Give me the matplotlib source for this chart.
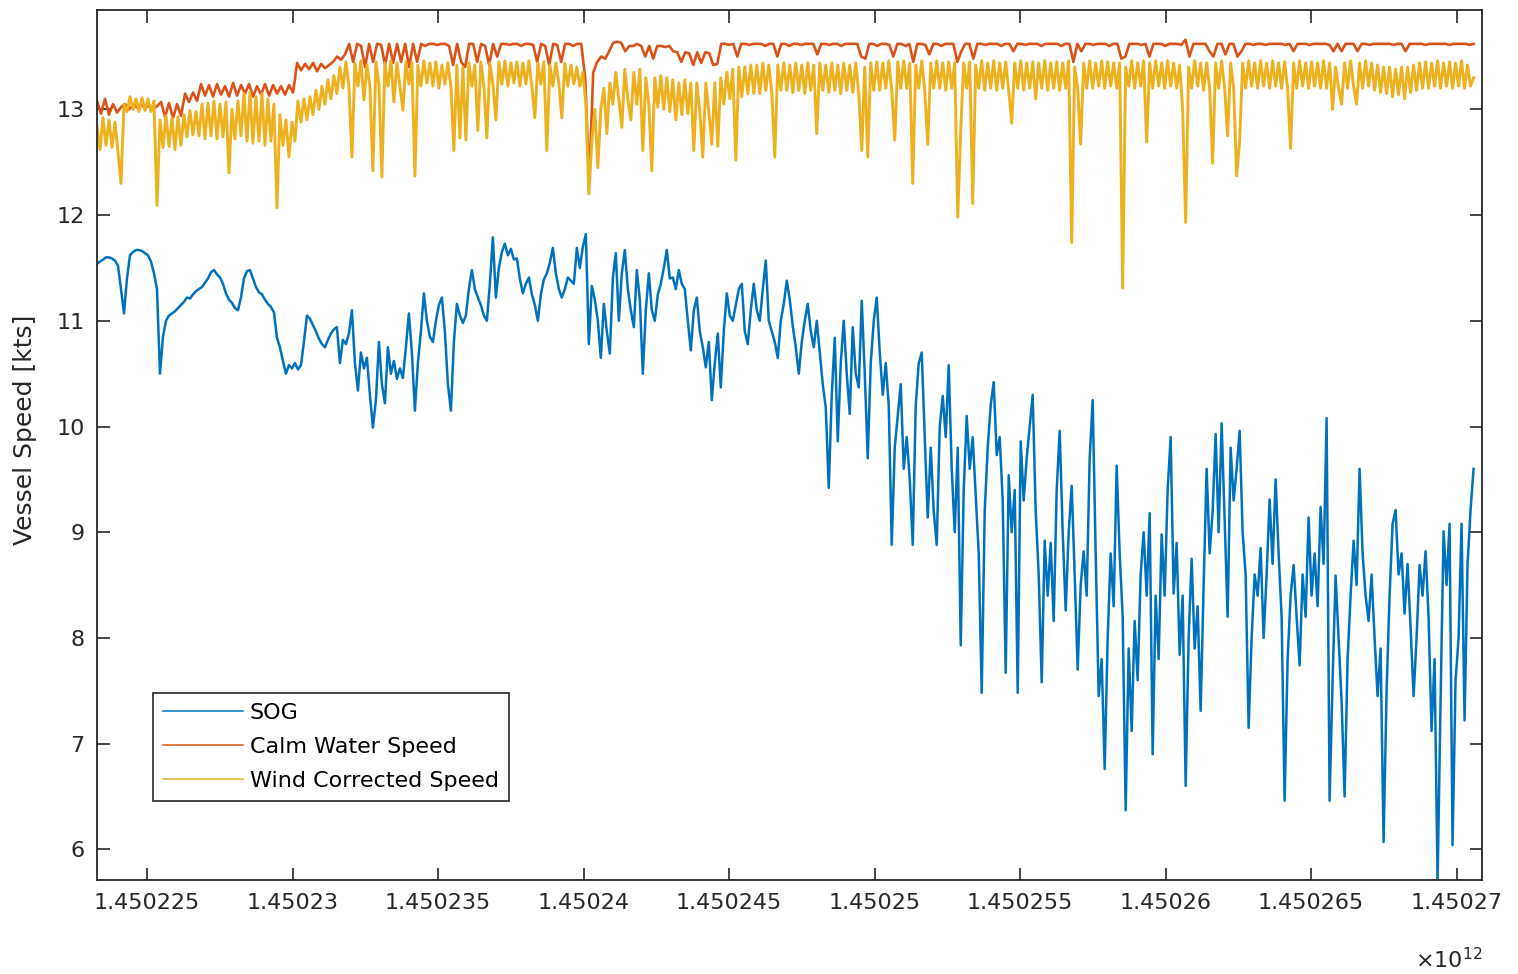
import numpy as np
import matplotlib
matplotlib.use('Agg')
import matplotlib.pyplot as plt

# Log timestamps (unix epoch, ms); samples are evenly spaced over the passage
T_START = 1450223281800
T_END = 1450270585000

# Speed over ground [kts]
sog = [
    11.54, 11.56, 11.58, 11.60, 11.60, 11.59, 11.57, 11.52, 11.30, 11.07,
    11.40, 11.62, 11.65, 11.67, 11.67, 11.66, 11.64, 11.62, 11.56, 11.45,
    11.30, 10.50, 10.85, 11.00, 11.05, 11.07, 11.09, 11.12, 11.15, 11.18,
    11.22, 11.21, 11.25, 11.28, 11.30, 11.32, 11.36, 11.40, 11.46, 11.48,
    11.44, 11.41, 11.35, 11.26, 11.20, 11.17, 11.12, 11.10, 11.22, 11.40,
    11.47, 11.48, 11.40, 11.32, 11.27, 11.25, 11.20, 11.16, 11.13, 11.08,
    10.84, 10.75, 10.62, 10.50, 10.58, 10.55, 10.60, 10.54, 10.58, 10.80,
    11.05, 11.02, 10.96, 10.90, 10.83, 10.78, 10.75, 10.82, 10.88, 10.92,
    10.94, 10.60, 10.82, 10.78, 10.88, 11.10, 10.60, 10.34, 10.70, 10.55,
    10.65, 10.30, 9.99, 10.25, 10.80, 10.40, 10.22, 10.75, 10.50, 10.62,
    10.45, 10.55, 10.46, 10.75, 11.07, 10.70, 10.15, 10.60, 10.90, 11.26,
    11.00, 10.85, 10.80, 11.00, 11.15, 11.22, 10.90, 10.40, 10.15, 10.80,
    11.16, 11.05, 10.98, 11.05, 11.30, 11.48, 11.30, 11.22, 11.15, 11.05,
    11.00, 11.35, 11.79, 11.22, 11.50, 11.65, 11.73, 11.62, 11.68, 11.58,
    11.59, 11.40, 11.26, 11.35, 11.41, 11.25, 11.15, 11.00, 11.25, 11.39,
    11.45, 11.55, 11.69, 11.45, 11.30, 11.22, 11.30, 11.41, 11.38, 11.35,
    11.69, 11.50, 11.70, 11.82, 10.78, 11.33, 11.20, 11.00, 10.65, 11.16,
    10.90, 10.69, 11.40, 11.64, 11.00, 11.45, 11.67, 11.30, 11.10, 10.94,
    11.48, 11.20, 10.50, 11.10, 11.45, 11.10, 11.00, 11.25, 11.35, 11.50,
    11.67, 11.40, 11.41, 11.30, 11.48, 11.35, 11.30, 11.00, 10.72, 11.10,
    11.22, 10.90, 10.75, 10.56, 10.80, 10.25, 10.60, 10.88, 10.37, 10.90,
    11.26, 11.05, 11.00, 11.15, 11.30, 11.35, 10.90, 10.78, 11.10, 11.35,
    11.10, 11.00, 11.30, 11.57, 11.00, 10.90, 10.80, 10.65, 11.00, 11.16,
    11.38, 11.20, 10.95, 10.75, 10.50, 10.80, 11.00, 11.16, 10.90, 10.75,
    11.00, 10.70, 10.40, 10.18, 9.42, 10.30, 10.84, 9.86, 10.60, 11.00,
    10.50, 10.12, 10.94, 10.50, 10.37, 11.19, 10.50, 9.70, 10.60, 11.00,
    11.22, 10.70, 10.30, 10.60, 10.20, 8.88, 9.80, 10.10, 10.40, 9.60,
    9.90, 9.50, 8.88, 10.20, 10.60, 10.70, 9.90, 9.14, 9.80, 9.20,
    8.88, 10.00, 10.29, 9.90, 10.58, 9.60, 9.00, 9.80, 7.93, 9.40,
    10.10, 9.60, 9.90, 9.34, 8.80, 7.48, 9.20, 9.80, 10.20, 10.42,
    9.73, 9.90, 9.30, 7.67, 9.54, 9.00, 9.40, 7.48, 9.86, 9.30,
    9.70, 10.00, 10.30, 9.20, 8.60, 7.58, 8.92, 8.40, 8.90, 8.16,
    9.40, 9.96, 9.00, 8.26, 9.00, 9.44, 8.60, 7.70, 8.50, 8.82,
    8.40, 9.70, 10.25, 8.80, 7.45, 7.80, 6.76, 8.00, 8.80, 8.30,
    9.63, 8.80, 8.20, 6.37, 7.90, 7.12, 8.16, 7.60, 8.60, 9.00,
    8.40, 9.18, 6.90, 8.40, 7.80, 8.98, 8.40, 9.40, 9.90, 8.42,
    8.90, 7.84, 8.40, 6.60, 8.00, 8.75, 7.90, 8.30, 7.31, 8.50,
    9.60, 8.80, 9.20, 9.93, 9.00, 10.03, 9.10, 8.20, 9.80, 9.30,
    9.60, 9.96, 9.00, 8.60, 7.15, 8.00, 8.60, 8.40, 8.85, 8.00,
    8.60, 9.31, 8.70, 9.50, 8.80, 8.20, 6.46, 7.80, 8.40, 8.69,
    8.20, 7.74, 8.60, 8.20, 9.14, 8.40, 8.80, 8.30, 9.24, 8.70,
    10.08, 6.46, 7.60, 8.59, 8.00, 7.40, 6.50, 7.80, 8.40, 8.92,
    8.50, 9.60, 8.80, 8.40, 8.16, 8.60, 8.00, 7.45, 7.90, 6.07,
    7.50, 8.40, 9.08, 9.21, 8.60, 8.80, 8.23, 8.70, 8.10, 7.45,
    8.00, 8.69, 8.40, 8.82, 8.20, 7.12, 7.80, 5.68, 7.40, 9.01,
    8.50, 9.08, 6.04, 7.60, 8.00, 9.08, 7.22, 8.70, 9.21, 9.60,
]

# Calm water speed from the power curve [kts]
calm_water = [
    13.08, 12.96, 13.10, 12.95, 13.05, 12.97, 13.02, 13.05, 13.00, 13.04,
    13.02, 13.05, 13.01, 13.04, 13.00, 13.03, 13.07, 12.93, 13.06, 12.92,
    13.05, 12.94, 13.15, 13.07, 13.16, 13.08, 13.24, 13.13, 13.23, 13.12,
    13.24, 13.14, 13.22, 13.12, 13.25, 13.13, 13.23, 13.15, 13.24, 13.12,
    13.22, 13.14, 13.24, 13.13, 13.23, 13.15, 13.22, 13.14, 13.23, 13.16,
    13.44, 13.37, 13.43, 13.38, 13.44, 13.36, 13.43, 13.39, 13.42, 13.45,
    13.50, 13.47, 13.52, 13.62, 13.45, 13.62, 13.60, 13.40, 13.62, 13.45,
    13.62, 13.61, 13.42, 13.62, 13.44, 13.62, 13.45, 13.62, 13.40, 13.62,
    13.45, 13.62, 13.60, 13.62, 13.62, 13.61, 13.62, 13.62, 13.60, 13.42,
    13.62, 13.45, 13.40, 13.62, 13.62, 13.45, 13.62, 13.60, 13.42, 13.62,
    13.50, 13.62, 13.62, 13.61, 13.62, 13.62, 13.60, 13.62, 13.62, 13.61,
    13.45, 13.62, 13.60, 13.42, 13.62, 13.61, 13.45, 13.62, 13.62, 13.60,
    13.62, 13.62, 13.30, 12.30, 13.35, 13.45, 13.50, 13.48, 13.55, 13.63,
    13.64, 13.63, 13.55, 13.60, 13.60, 13.62, 13.60, 13.50, 13.60, 13.48,
    13.60, 13.60, 13.59, 13.60, 13.55, 13.54, 13.45, 13.54, 13.53, 13.42,
    13.54, 13.44, 13.54, 13.53, 13.42, 13.43, 13.62, 13.62, 13.61, 13.62,
    13.50, 13.62, 13.62, 13.61, 13.62, 13.62, 13.62, 13.60, 13.62, 13.62,
    13.50, 13.62, 13.62, 13.60, 13.62, 13.62, 13.61, 13.62, 13.62, 13.62,
    13.52, 13.62, 13.62, 13.61, 13.62, 13.62, 13.60, 13.62, 13.62, 13.62,
    13.62, 13.50, 13.48, 13.62, 13.62, 13.60, 13.62, 13.62, 13.61, 13.50,
    13.62, 13.62, 13.60, 13.62, 13.45, 13.62, 13.62, 13.61, 13.52, 13.62,
    13.62, 13.60, 13.62, 13.62, 13.62, 13.45, 13.55, 13.62, 13.62, 13.48,
    13.62, 13.62, 13.61, 13.62, 13.62, 13.62, 13.60, 13.62, 13.62, 13.55,
    13.62, 13.62, 13.61, 13.62, 13.62, 13.62, 13.60, 13.62, 13.62, 13.62,
    13.62, 13.60, 13.62, 13.62, 13.45, 13.62, 13.55, 13.62, 13.62, 13.61,
    13.62, 13.62, 13.62, 13.60, 13.62, 13.62, 13.48, 13.50, 13.62, 13.62,
    13.62, 13.61, 13.62, 13.50, 13.62, 13.62, 13.62, 13.60, 13.62, 13.62,
    13.62, 13.61, 13.66, 13.50, 13.62, 13.62, 13.62, 13.62, 13.55, 13.50,
    13.62, 13.62, 13.52, 13.62, 13.62, 13.50, 13.55, 13.62, 13.62, 13.61,
    13.62, 13.62, 13.61, 13.62, 13.62, 13.62, 13.62, 13.61, 13.62, 13.55,
    13.62, 13.62, 13.62, 13.61, 13.62, 13.62, 13.62, 13.62, 13.61, 13.55,
    13.62, 13.55, 13.62, 13.62, 13.62, 13.55, 13.62, 13.62, 13.61, 13.62,
    13.62, 13.62, 13.62, 13.62, 13.61, 13.62, 13.62, 13.55, 13.62, 13.62,
    13.62, 13.62, 13.61, 13.62, 13.62, 13.62, 13.62, 13.62, 13.61, 13.62,
    13.62, 13.62, 13.62, 13.61, 13.62,
]

# Speed corrected for wind resistance [kts]
wind_corrected = [
    12.85, 12.62, 12.92, 12.66, 12.90, 12.64, 12.88, 12.60, 12.30, 13.05,
    12.98, 13.12, 13.00, 13.10, 12.98, 13.11, 12.99, 13.10, 12.98, 13.08,
    12.09, 12.90, 12.64, 12.94, 12.65, 12.92, 12.62, 12.93, 12.66, 12.95,
    12.74, 12.99, 12.76, 12.98, 12.75, 13.05, 12.72, 13.06, 12.75, 13.08,
    12.72, 13.05, 12.74, 13.07, 12.40, 13.00, 12.72, 13.08, 12.75, 13.15,
    12.70, 13.16, 12.68, 13.12, 12.70, 13.15, 12.66, 13.10, 12.70, 13.05,
    12.07, 12.95, 12.66, 12.90, 12.55, 12.88, 12.70, 13.08, 12.88, 13.10,
    12.90, 13.12, 12.95, 13.18, 13.00, 13.22, 13.05, 13.28, 13.10, 13.32,
    13.15, 13.40, 13.20, 13.45, 13.22, 12.55, 13.44, 13.22, 13.46, 13.09,
    13.42, 13.22, 12.42, 13.45, 13.24, 12.36, 13.44, 13.22, 13.46, 13.07,
    13.44, 13.22, 12.99, 13.45, 13.24, 13.44, 12.37, 13.42, 13.22, 13.46,
    13.25, 13.44, 13.22, 13.45, 13.20, 13.42, 13.24, 13.44, 13.22, 12.61,
    13.42, 12.73, 13.40, 12.71, 13.44, 13.22, 13.42, 12.80, 13.45, 13.22,
    12.73, 13.44, 13.24, 12.90, 13.45, 13.24, 13.46, 13.22, 13.44, 13.25,
    13.45, 13.22, 13.44, 13.24, 13.46, 13.22, 12.92, 13.44, 13.24, 13.45,
    12.61, 13.42, 13.22, 13.44, 13.25, 12.92, 13.44, 13.22, 13.42, 13.24,
    13.40, 13.22, 13.35, 13.05, 12.20, 12.70, 13.00, 12.45, 13.00, 13.20,
    12.77, 13.25, 13.05, 13.35, 13.10, 12.83, 13.38, 13.10, 12.90, 13.35,
    13.05, 13.38, 12.61, 13.30, 13.05, 12.42, 13.30, 13.02, 13.32, 13.00,
    13.30, 12.98, 13.28, 12.90, 13.25, 12.95, 13.28, 12.96, 13.25, 12.61,
    13.25, 12.98, 12.55, 13.25, 12.98, 12.67, 13.25, 12.65, 13.30, 13.05,
    13.35, 13.10, 13.38, 12.52, 13.40, 13.12, 13.40, 13.15, 13.42, 13.15,
    13.42, 13.15, 13.44, 13.18, 13.42, 13.16, 12.55, 13.42, 13.18, 13.44,
    13.18, 13.42, 13.16, 13.44, 13.18, 13.42, 13.15, 13.44, 13.18, 13.42,
    12.77, 13.44, 13.18, 13.42, 13.16, 13.44, 13.18, 13.42, 13.15, 13.44,
    13.18, 13.42, 13.16, 13.44, 13.15, 12.61, 13.40, 12.55, 13.44, 13.18,
    13.45, 13.18, 13.44, 13.20, 13.46, 13.18, 12.71, 13.45, 13.20, 13.46,
    13.20, 13.44, 12.30, 13.42, 13.20, 13.46, 13.18, 12.67, 13.44, 13.20,
    13.46, 13.20, 13.44, 13.18, 13.45, 13.20, 13.44, 11.98, 12.80, 13.44,
    13.20, 13.45, 12.11, 13.42, 13.20, 13.46, 13.18, 13.44, 13.20, 13.46,
    13.18, 13.44, 13.20, 13.45, 13.18, 12.87, 13.44, 13.20, 13.46, 13.18,
    13.44, 13.20, 13.45, 13.10, 13.44, 13.20, 13.46, 13.18, 13.44, 13.20,
    13.45, 13.18, 13.44, 13.20, 13.46, 11.74, 13.40, 13.20, 12.67, 13.44,
    13.20, 13.46, 13.20, 13.44, 13.22, 13.46, 13.20, 13.45, 13.22, 13.44,
    13.20, 13.44, 11.31, 13.40, 13.22, 13.46, 13.20, 13.44, 13.22, 13.46,
    12.69, 13.44, 13.20, 13.46, 13.22, 13.44, 13.20, 13.46, 13.22, 13.44,
    13.20, 13.42, 13.00, 11.93, 13.40, 13.20, 13.46, 13.22, 13.44, 13.18,
    13.44, 13.20, 12.49, 13.44, 13.20, 13.46, 13.20, 12.75, 13.44, 13.20,
    12.37, 12.70, 13.44, 13.20, 13.46, 13.22, 13.44, 13.20, 13.46, 13.22,
    13.44, 13.20, 13.46, 13.22, 13.44, 13.20, 13.45, 13.20, 12.63, 13.44,
    13.20, 13.46, 13.22, 13.44, 13.20, 13.45, 13.22, 13.44, 13.20, 13.46,
    13.20, 13.44, 13.00, 13.40, 13.20, 13.05, 13.44, 13.20, 13.46, 13.22,
    13.05, 13.44, 13.20, 13.46, 13.22, 13.44, 13.18, 13.42, 13.16, 13.40,
    13.15, 13.40, 13.12, 13.38, 13.14, 13.40, 13.10, 13.40, 13.16, 13.42,
    13.18, 13.44, 13.20, 13.45, 13.20, 13.44, 13.22, 13.46, 13.20, 13.44,
    13.22, 13.45, 13.20, 13.44, 13.22, 13.46, 13.20, 13.42, 13.22, 13.30,
]

series_labels = ['SOG', 'Calm Water Speed', 'Wind Corrected Speed']
series_colors = ['#0072BD', '#D95319', '#EDB120']
series_widths = [1.8, 1.9, 2.1]

x_ticks = np.arange(1450225e6, 1450270e6 + 1, 5e6)
x_tick_labels = [f"{v / 1e12:.6f}".rstrip('0') for v in x_ticks]
y_ticks = np.arange(6, 14)

plt.rcParams['font.family'] = 'DejaVu Sans'
ink = '#262626'

fig = plt.figure(figsize=(15.18, 9.74), dpi=100)
ax = fig.add_axes([0.0639, 0.0965, 0.9124, 0.8932])

for values, label, color, lw in zip([sog, calm_water, wind_corrected], series_labels,
                                    series_colors, series_widths):
    t = np.linspace(T_START, T_END, len(values))
    ax.plot(t, values, color=color, lw=lw, label=label)

ax.set_xlim(T_START, 1450270876000)
ax.set_ylim(5.71, 13.94)
ax.set_xticks(x_ticks)
ax.set_xticklabels(x_tick_labels)
ax.set_yticks(y_ticks)

ax.tick_params(direction='in', length=9, width=1.2, top=True, right=True,
               labelsize=16, color=ink, labelcolor=ink, pad=9)
for side in ax.spines.values():
    side.set_color(ink)
    side.set_linewidth(1.3)

ax.set_ylabel('Vessel Speed [kts]', fontsize=18, color=ink)
ax.yaxis.set_label_coords(-0.0433, 0.517)

# exponent for the x tick labels, drawn under the last tick
ax.text(1.0, -0.101, r'$\times\mathregular{10^{12}}$', transform=ax.transAxes,
        ha='right', va='baseline', fontsize=16, color=ink)

leg = ax.legend(loc='upper left', bbox_to_anchor=(0.0404, 0.215), borderaxespad=0,
                fontsize=16, fancybox=False, framealpha=1, edgecolor=ink,
                handlelength=3.6, handletextpad=0.3, labelspacing=0.62, borderpad=0.45)
leg.get_frame().set_linewidth(1.2)
for line in leg.get_lines():
    line.set_linewidth(1.1)

fig.savefig('out.png', dpi=100)
